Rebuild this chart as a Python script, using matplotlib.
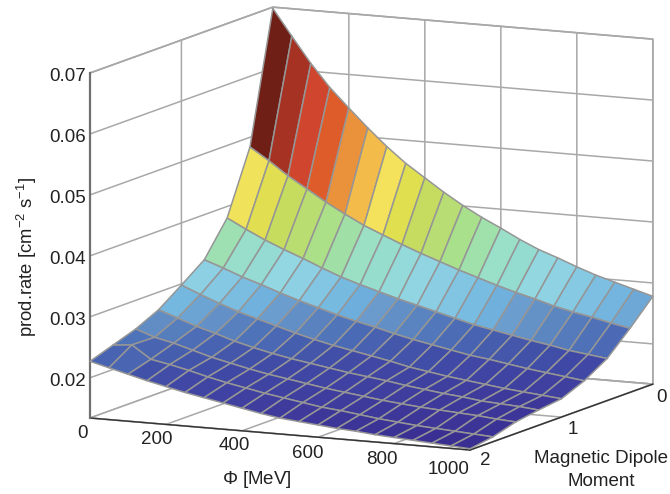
import numpy as np
import matplotlib
matplotlib.use("Agg")
import matplotlib.pyplot as plt
from matplotlib.colors import LinearSegmentedColormap, Normalize
from matplotlib.text import Text
from matplotlib.transforms import ScaledTranslation
from mpl_toolkits.mplot3d import proj3d

plt.rcParams['font.family'] = ['Liberation Sans', 'DejaVu Sans']
plt.rcParams['mathtext.fontset'] = 'custom'
plt.rcParams['mathtext.rm'] = 'Liberation Sans'
plt.rcParams['mathtext.it'] = 'Liberation Serif'
plt.rcParams['mathtext.default'] = 'rm'

phi = [0, 50, 100, 150, 200, 250, 300, 350, 400, 450, 500, 550, 600, 650, 700, 750, 800, 850, 900, 950, 1000]
moment = [0, 0.25, 0.5, 0.75, 1, 1.25, 1.5, 1.75, 2]

z_m000 = [.0698, .0655, .0613, .0576, .0545, .0515, .0487, .0462, .0441, .0420, .0401, .0384, .0369, .0353, .0339, .0328, .0316, .0305, .0296, .0287, .0278]
z_m025 = [.0484, .0464, .0442, .0423, .0404, .0387, .0371, .0358, .0345, .0333, .0322, .0311, .0301, .0291, .0282, .0274, .0265, .0258, .0252, .0245, .0239]
z_m050 = [.0381, .0365, .0350, .0337, .0325, .0312, .0300, .0290, .0281, .0272, .0264, .0256, .0248, .0240, .0234, .0228, .0222, .0217, .0211, .0207, .0203]
z_m075 = [.0326, .0315, .0303, .0293, .0282, .0272, .0263, .0254, .0246, .0239, .0231, .0224, .0218, .0212, .0206, .0202, .0197, .0192, .0188, .0184, .0180]
z_m100 = [.0298, .0285, .0273, .0262, .0253, .0244, .0235, .0227, .0220, .0214, .0208, .0202, .0195, .0190, .0185, .0181, .0177, .0173, .0170, .0167, .0164]
z_m125 = [.0271, .0260, .0249, .0240, .0230, .0222, .0215, .0209, .0204, .0199, .0194, .0190, .0186, .0181, .0177, .0173, .0170, .0166, .0164, .0162, .0159]
z_m150 = [.0253, .0242, .0235, .0226, .0217, .0210, .0203, .0197, .0192, .0187, .0182, .0178, .0174, .0170, .0167, .0164, .0162, .0160, .0158, .0155, .0153]
z_m175 = [.0240, .0243, .0222, .0216, .0209, .0201, .0194, .0188, .0182, .0177, .0172, .0167, .0164, .0160, .0156, .0153, .0150, .0148, .0146, .0144, .0142]
z_m200 = [.0227, .0219, .0211, .0203, .0196, .0189, .0183, .0177, .0171, .0165, .0160, .0157, .0154, .0151, .0149, .0146, .0144, .0142, .0140, .0138, .0136]

z_ticks = [0.02, 0.03, 0.04, 0.05, 0.06, 0.07]
phi_ticks = [0, 200, 400, 600, 800, 1000]
moment_ticks = [0, 1, 2]
z_range = (0.0134, 0.07)

cmap_levels = [.0134, .0156, .0185, .0210, .0230, .0250, .0265, .0280, .0290, .0305, .0325, .0339, .0353, .0369,
               .0384, .0401, .0420, .0441, .0462, .0487, .0514, .0545, .0576, .0613, .0655, .0700]
cmap_colors = ['#362a8c', '#3c3396', '#3f3fa0', '#4048a5', '#4458ab', '#4d6fb7', '#5b86c0', '#6b9bcc', '#6eaedc', '#7cc0e2',
               '#8dd0e4', '#93d8e0', '#95dcd0', '#9adfc8', '#9fe0ac', '#a8e08c', '#b8dd75', '#c5dc60', '#dfdf50', '#f4e25c',
               '#f3bc4a', '#ea913c', '#de5c2a', '#d1452d', '#a63223', '#6f1f16']

Z = np.array([z_m000, z_m025, z_m050, z_m075, z_m100, z_m125, z_m150, z_m175, z_m200])
X, Y = np.meshgrid(phi, moment)
norm = Normalize(z_range[0], z_range[1])
cmap = LinearSegmentedColormap.from_list(
    'band', [(float(norm(v)), c) for v, c in zip(cmap_levels, cmap_colors)], N=512)

fig = plt.figure(figsize=(6.7, 4.94), dpi=100)
ax = fig.add_axes([0, 0, 1, 1], projection='3d', proj_type='ortho', computed_zorder=True)
ax.view_init(elev=10.03, azim=-64.2)
ax.set_box_aspect((422, 420, 350.3))
ax.set_xlim(0, 1000, view_margin=0)
ax.set_ylim(2, 0, view_margin=0)
ax.set_zlim(z_range[0], z_range[1], view_margin=0)

ax.plot_surface(X, Y, Z, rstride=1, cstride=1, facecolors=cmap(norm(Z)), shade=False,
                edgecolor='#969696', linewidth=1.1, antialiased=True)

ax.set_xticks(phi_ticks)
ax.set_yticks(moment_ticks)
ax.set_zticks(z_ticks)
ax.set_zticklabels(['%.2f' % v for v in z_ticks])
ax.tick_params(labelsize=13.5, colors='#222222')
ax.tick_params(axis='x', pad=-4)
ax.tick_params(axis='y', pad=-5)
ax.tick_params(axis='z', pad=2)
ax.zaxis.set_ticks_position('upper')

for axis, line_c, lw in ((ax.xaxis, '#333333', 1.0), (ax.yaxis, '#333333', 1.0), (ax.zaxis, '#707070', 1.6)):
    axis.set_pane_color((1, 1, 1, 1))
    axis.pane.set_edgecolor('#a8a8a8')
    axis.pane.set_linewidth(1.2)
    axis.line.set_color(line_c)
    axis.line.set_linewidth(lw)
    axis._axinfo['grid'].update(color='#a8a8a8', linewidth=1.1, linestyle='-')
    axis._axinfo['tick'].update(inward_factor=0.0, outward_factor=0.0)

# small per-label nudges in pixels (right, up); Axis3D resets label transforms on every
# draw, so the nudge is attached to set_transform itself
def nudge(axis, offsets):
    for tick, (dx, dy) in zip(axis.get_major_ticks(), offsets):
        lab = tick.label1
        off = ScaledTranslation(dx / 100, dy / 100, fig.dpi_scale_trans)
        lab.set_transform = (lambda l, o: (lambda t: Text.set_transform(l, t + o)))(lab, off)

nudge(ax.xaxis, [(-5, 0), (-6, 0), (-5, 0), (-7, -1), (-9, -1), (-19, -4)])
nudge(ax.yaxis, [(4, 0), (7, 1), (11, 2)])
nudge(ax.zaxis, [(0, 6)] * 6)

# fit the square axes so that the projected box lands on the reference frame
W, H = fig.get_size_inches() * fig.dpi
size = 620.0
left, bottom = 0.0, 0.0
for _ in range(4):
    ax.set_position([left / W, bottom / H, size / W, size / H])
    ax.apply_aspect()
    fig.canvas.draw()
    def px(a, b, c):
        xs, ys, _z = proj3d.proj_transform(a, b, c, ax.get_proj())
        return ax.transData.transform((xs, ys))
    p0 = px(0, 2, z_range[0])
    p1 = px(1000, 2, z_range[0])
    size *= 380.0 / (p1[0] - p0[0])
    left += 90 - p0[0]
    bottom += (H - 418) - p0[1]
ax.set_position([left / W, bottom / H, size / W, size / H])

fig.text(27 / W, 1 - 257 / H, r'prod.rate [cm$^{-2}$ s$^{-1}$]', rotation=90, ha='center', va='center',
         fontsize=13.3, color='#222222')
fig.text(257 / W, 1 - 480 / H, r'$\mathit{\Phi}$ [MeV]', ha='center', va='center', fontsize=13.5, color='#222222')
fig.text(601 / W, 1 - 470 / H, 'Magnetic Dipole\nMoment', ha='center', va='center', fontsize=13.5,
         color='#222222', linespacing=1.4)

fig.savefig('out.png', dpi=100)
